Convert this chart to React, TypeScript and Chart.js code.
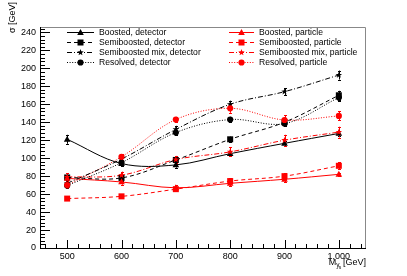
import React, { useEffect, useRef } from "react";
import { Chart, registerables } from "chart.js";

Chart.register(...registerables);

const masses = [500, 600, 700, 800, 900, 1000];

const boostedDet = [121, 94, 92.5, 105, 116.5, 127.5];
const semiDet = [78.5, 78, 98, 121, 140, 170];
const semiMixDet = [72, 99, 132, 160, 174, 192.5];
const resolvedDet = [69.5, 95, 128.5, 143, 138.5, 167.5];
const boostedPart = [77.5, 73.5, 67, 72, 76.5, 82];
const semiPart = [55, 57.5, 65.5, 74.5, 80, 91.5];
const semiMixPart = [79, 81, 98.5, 107, 120, 129];
const resolvedPart = [70, 101.5, 143, 155.5, 142.5, 147];

const boostedDetErr = [5, 3, 3, 3, 3, 3];
const semiDetErr = [3, 3, 3, 3, 3, 5];
const semiMixDetErr = [3, 3, 4, 4, 4, 5];
const resolvedDetErr = [3, 3, 3, 3, 3, 4];
const boostedPartErr = [3, 3, 3, 3, 3, 2];
const semiPartErr = [2, 2, 2, 3, 3, 4];
const semiMixPartErr = [4, 4, 4, 5, 6, 6];
const resolvedPartErr = [3, 3, 3, 5, 5, 5];

const yTicks = [0, 20, 40, 60, 80, 100, 120, 140, 160, 180, 200, 220, 240];
const xTicks = [500, 600, 700, 800, 900, 1000];

const seriesLabels = [
  "Boosted, detector",
  "Semiboosted, detector",
  "Semiboosted mix, detector",
  "Resolved, detector",
  "Boosted, particle",
  "Semiboosted, particle",
  "Semiboosted mix, particle",
  "Resolved, particle",
];

const RED = "#ff0000";
const BLACK = "#000000";
const FONT = "'Liberation Sans', Arial, sans-serif";

type Marker = "triangle" | "rect" | "star" | "circle";

function drawMarker(ctx: CanvasRenderingContext2D, kind: Marker, x: number, y: number, color: string) {
  ctx.save();
  ctx.fillStyle = color;
  ctx.strokeStyle = color;
  ctx.setLineDash([]);
  ctx.beginPath();
  if (kind === "triangle") {
    ctx.moveTo(x, y - 3.6);
    ctx.lineTo(x + 3.3, y + 2.4);
    ctx.lineTo(x - 3.3, y + 2.4);
    ctx.closePath();
    ctx.fill();
  } else if (kind === "rect") {
    ctx.rect(x - 3, y - 3, 6, 6);
    ctx.fill();
  } else if (kind === "circle") {
    ctx.arc(x, y, 3.1, 0, Math.PI * 2);
    ctx.fill();
  } else {
    // small five-pointed star
    const R = 3.4, r = 1.4;
    for (let i = 0; i < 10; i++) {
      const a = -Math.PI / 2 + (i * Math.PI) / 5;
      const rr = i % 2 === 0 ? R : r;
      const px = x + rr * Math.cos(a);
      const py = y + rr * Math.sin(a);
      if (i === 0) ctx.moveTo(px, py);
      else ctx.lineTo(px, py);
    }
    ctx.closePath();
    ctx.fill();
  }
  ctx.restore();
}

const styles: { color: string; dash: number[]; marker: Marker }[] = [
  { color: BLACK, dash: [], marker: "triangle" },
  { color: BLACK, dash: [4, 3], marker: "rect" },
  { color: BLACK, dash: [5, 2, 1, 2], marker: "star" },
  { color: BLACK, dash: [1, 1.6], marker: "circle" },
  { color: RED, dash: [], marker: "triangle" },
  { color: RED, dash: [4, 3], marker: "rect" },
  { color: RED, dash: [5, 2, 1, 2], marker: "star" },
  { color: RED, dash: [1, 1.6], marker: "circle" },
];

const allValues = [boostedDet, semiDet, semiMixDet, resolvedDet, boostedPart, semiPart, semiMixPart, resolvedPart];
const allErrors = [boostedDetErr, semiDetErr, semiMixDetErr, resolvedDetErr, boostedPartErr, semiPartErr, semiMixPartErr, resolvedPartErr];

const rootPlugin = {
  id: "rootStyle",
  beforeDatasetsDraw(chart: any) {
    const ctx: CanvasRenderingContext2D = chart.ctx;
    const { left, right, top, bottom } = chart.chartArea;
    const xs = chart.scales.x;
    const ys = chart.scales.y;
    ctx.save();
    // frame top/right (grey)
    ctx.strokeStyle = "#888888";
    ctx.lineWidth = 1;
    ctx.beginPath();
    ctx.moveTo(left, top + 0.5);
    ctx.lineTo(right - 0.5, top + 0.5);
    ctx.lineTo(right - 0.5, bottom);
    ctx.stroke();
    // axes
    ctx.strokeStyle = BLACK;
    ctx.beginPath();
    ctx.moveTo(left + 0.5, top);
    ctx.lineTo(left + 0.5, bottom + 0.5);
    ctx.lineTo(right, bottom + 0.5);
    ctx.stroke();
    // y ticks
    ctx.beginPath();
    for (let v = 0; v <= 244; v += 4) {
      const py = Math.round(ys.getPixelForValue(v)) + 0.5;
      const len = v % 20 === 0 ? 10 : 5;
      ctx.moveTo(left, py);
      ctx.lineTo(left + len, py);
    }
    // x ticks
    for (let v = 460; v <= 1040; v += 20) {
      const px = Math.round(xs.getPixelForValue(v)) + 0.5;
      const len = v % 100 === 0 ? 8 : 4;
      ctx.moveTo(px, bottom);
      ctx.lineTo(px, bottom - len);
    }
    ctx.stroke();

    // error bars
    chart.data.datasets.forEach((ds: any, i: number) => {
      const errs = allErrors[i];
      ctx.strokeStyle = styles[i].color;
      ctx.setLineDash([]);
      ctx.beginPath();
      ds.data.forEach((pt: any, j: number) => {
        const px = Math.round(xs.getPixelForValue(pt.x)) + 0.5;
        const y1 = ys.getPixelForValue(pt.y - errs[j]);
        const y2 = ys.getPixelForValue(pt.y + errs[j]);
        ctx.moveTo(px, y1);
        ctx.lineTo(px, y2);
        ctx.moveTo(px - 1.5, Math.round(y1) + 0.5);
        ctx.lineTo(px + 1.5, Math.round(y1) + 0.5);
        ctx.moveTo(px - 1.5, Math.round(y2) + 0.5);
        ctx.lineTo(px + 1.5, Math.round(y2) + 0.5);
      });
      ctx.stroke();
    });
    ctx.restore();
  },
  afterDatasetsDraw(chart: any) {
    const ctx: CanvasRenderingContext2D = chart.ctx;
    const xs = chart.scales.x;
    const ys = chart.scales.y;
    chart.data.datasets.forEach((ds: any, i: number) => {
      ds.data.forEach((pt: any) => {
        drawMarker(ctx, styles[i].marker, xs.getPixelForValue(pt.x), ys.getPixelForValue(pt.y), styles[i].color);
      });
    });
  },
  afterDraw(chart: any) {
    const ctx: CanvasRenderingContext2D = chart.ctx;
    const { right, top, bottom } = chart.chartArea;
    ctx.save();
    // legend
    const rows = [32.5, 42.5, 52.5, 62.5];
    const cols = [
      { x0: 67, x1: 94, tx: 99 },
      { x0: 229, x1: 254, tx: 259 },
    ];
    ctx.font = `8.6px ${FONT}`;
    ctx.textBaseline = "middle";
    ctx.textAlign = "left";
    for (let i = 0; i < 8; i++) {
      const c = cols[Math.floor(i / 4)];
      const y = rows[i % 4];
      const st = styles[i];
      ctx.strokeStyle = st.color;
      ctx.lineWidth = 1;
      ctx.setLineDash(st.dash);
      ctx.beginPath();
      ctx.moveTo(c.x0, y);
      ctx.lineTo(c.x1, y);
      ctx.stroke();
      ctx.setLineDash([]);
      drawMarker(ctx, st.marker, (c.x0 + c.x1) / 2, y, st.color);
      ctx.fillStyle = BLACK;
      ctx.fillText(seriesLabels[i], c.tx, y + 0.5);
    }
    // y axis title
    ctx.save();
    ctx.translate(13, 33);
    ctx.rotate(-Math.PI / 2);
    ctx.textAlign = "left";
    ctx.textBaseline = "middle";
    ctx.font = `9px ${FONT}`;
    ctx.fillStyle = BLACK;
    ctx.fillText("σ [GeV]", 0, 0);
    ctx.restore();
    // x axis title: M_{y_s} [GeV]
    ctx.fillStyle = BLACK;
    ctx.textBaseline = "alphabetic";
    ctx.textAlign = "left";
    ctx.font = `9px ${FONT}`;
    const gev = " [GeV]";
    const gevW = ctx.measureText(gev).width;
    const mW = ctx.measureText("M").width;
    ctx.font = `6.5px ${FONT}`;
    const subW = ctx.measureText("y").width;
    const endX = right;
    const baseY = 265;
    const startX = endX - gevW - subW - mW - 1;
    ctx.font = `9px ${FONT}`;
    ctx.fillText("M", startX, baseY);
    ctx.font = `6.5px ${FONT}`;
    ctx.fillText("y", startX + mW, baseY + 1.5);
    ctx.font = `5px ${FONT}`;
    ctx.fillText("s", startX + mW + 2.5, baseY + 4);
    ctx.font = `9px ${FONT}`;
    ctx.fillText(gev, startX + mW + subW + 1, baseY);
    ctx.restore();
  },
};

export default function App() {
  const ref = useRef<HTMLCanvasElement>(null);
  useEffect(() => {
    if (!ref.current) return;
    const datasets = allValues.map((vals, i) => ({
      label: seriesLabels[i],
      data: vals.map((v, j) => ({ x: masses[j], y: v })),
      borderColor: styles[i].color,
      backgroundColor: styles[i].color,
      borderWidth: 1,
      borderDash: styles[i].dash,
      pointRadius: 0,
      tension: 0.35,
      fill: false,
    }));
    const chart = new Chart(ref.current, {
      type: "line",
      data: { datasets },
      options: {
        animation: false,
        responsive: false,
        maintainAspectRatio: false,
        layout: { padding: { top: 27, right: 41, left: 0, bottom: 0 } },
        plugins: { legend: { display: false }, tooltip: { enabled: false } },
        scales: {
          x: {
            type: "linear",
            min: 450,
            max: 1050,
            afterFit: (s: any) => { s.height = 28; },
            afterBuildTicks: (s: any) => { s.ticks = xTicks.map((v) => ({ value: v })); },
            grid: { display: false, drawTicks: false },
            border: { display: false },
            ticks: { font: { family: FONT, size: 9 }, color: BLACK, padding: 3, maxRotation: 0 },
          },
          y: {
            type: "linear",
            min: 0,
            max: 246,
            afterFit: (s: any) => { s.width = 40; },
            afterBuildTicks: (s: any) => { s.ticks = yTicks.map((v) => ({ value: v })); },
            grid: { display: false, drawTicks: false },
            border: { display: false },
            ticks: { font: { family: FONT, size: 9 }, color: BLACK, padding: 4 },
          },
        },
      },
      plugins: [rootPlugin],
    });
    return () => chart.destroy();
  }, []);
  return (
    <div style={{ position: "fixed", left: 0, top: 0, width: 407, height: 276, background: "#fff" }}>
      <canvas ref={ref} width={407} height={276} style={{ width: 407, height: 276 }} />
    </div>
  );
}
